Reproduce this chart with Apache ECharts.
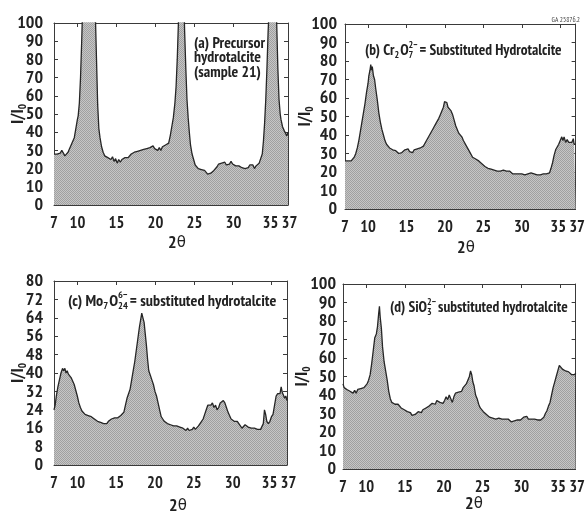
<!DOCTYPE html>
<html><head><meta charset="utf-8">
<script src="https://cdn.jsdelivr.net/npm/echarts@6/dist/echarts.min.js"></script>
<style>html,body{margin:0;padding:0;background:#fff}#c{width:588px;height:513px}</style>
</head><body><div id="c"></div>
<script>
// ---------- data ----------
const xTicks = [7, 10, 15, 20, 25, 30, 35, 37];
const xTickLabelsMain = [7, 10, 15, 20, 25, 30, 35];
const xTickLabelsEnd = [37];
const yTicks100 = [0, 10, 20, 30, 40, 50, 60, 70, 80, 90, 100];
const yTicks80 = [0, 8, 16, 24, 32, 40, 48, 56, 64, 72, 80];

// (a) Precursor hydrotalcite (sample 21)  [2theta, I/I0]  (peaks run off the top)
const dataA = [[7.0,28],[7.2,29],[7.4,28],[7.6,29],[7.8,28.5],[8.0,30],[8.2,29],[8.4,27],[8.6,27.5],[8.8,29],[9.0,31],[9.2,33],[9.4,34],[9.6,37],[9.8,42],[10.0,47],[10.1,49],[10.25,56],[10.4,70],[10.55,90],[10.65,105],[11.0,150],[11.5,170],[12.0,140],[12.3,105],[12.45,80],[12.6,55],[12.75,42],[12.9,37],[13.1,32],[13.3,29],[13.5,27],[13.7,28],[13.9,26],[14.1,27],[14.3,25],[14.5,26.5],[14.7,24],[14.9,25.5],[15.1,23],[15.3,25],[15.5,23.5],[15.7,25],[15.9,24],[16.1,26],[16.3,25],[16.5,26],[16.7,27],[16.9,28],[17.1,27],[17.3,29],[17.5,28],[17.7,29.5],[17.9,28.5],[18.1,30],[18.3,29],[18.5,30.5],[18.7,29.5],[18.9,31],[19.1,30],[19.3,31.5],[19.5,30.5],[19.7,32.5],[19.9,31],[20.1,32],[20.3,30],[20.5,31.5],[20.7,30],[20.9,32],[21.1,31],[21.3,33],[21.5,32.5],[21.7,34],[21.9,38],[22.1,43],[22.3,48],[22.5,56],[22.65,65],[22.8,80],[22.95,100],[23.3,140],[23.6,120],[23.75,95],[23.9,75],[24.05,58],[24.2,48],[24.35,40],[24.5,33],[24.7,28],[24.9,25],[25.1,22],[25.3,21.5],[25.5,20],[25.7,21],[25.9,19.5],[26.1,20],[26.3,19],[26.5,18],[26.7,17],[26.9,18],[27.1,17.5],[27.3,18.5],[27.5,19],[27.7,20],[27.9,21],[28.1,22.5],[28.3,21.5],[28.5,23],[28.7,22],[28.9,23.5],[29.1,22],[29.3,23],[29.5,22.5],[29.7,24],[29.9,22.5],[30.1,23],[30.3,21.5],[30.5,22.5],[30.7,21.5],[30.9,22],[31.1,20.5],[31.3,21.5],[31.5,20],[31.7,21],[31.9,20.5],[32.1,22],[32.3,21],[32.5,22],[32.7,20],[32.9,21.5],[33.1,22],[33.3,23],[33.5,24],[33.7,28],[33.85,35],[34.0,45],[34.15,58],[34.3,75],[34.45,95],[34.55,105],[35.0,160],[35.4,120],[35.55,100],[35.7,75],[35.85,58],[36.0,50],[36.1,47],[36.3,43],[36.5,41],[36.7,40],[36.85,38],[37.0,40]];

// (b) Cr2O7 2- substituted hydrotalcite
const dataB = [[7.0,26],[7.2,25],[7.4,26],[7.6,25],[7.8,26],[8.0,27],[8.2,28],[8.4,30],[8.6,33],[8.8,37],[9.0,42],[9.2,47],[9.4,52],[9.6,57],[9.8,63],[10.0,68],[10.1,72],[10.25,75],[10.35,78],[10.45,75],[10.55,77],[10.7,72],[10.85,70],[11.0,65],[11.2,59],[11.4,52],[11.6,47],[11.8,43],[12.0,40],[12.2,37],[12.4,35],[12.6,35],[12.8,33],[13.0,33.5],[13.2,32],[13.4,31],[13.6,31.5],[13.8,30.5],[14.0,30],[14.2,31],[14.4,30.5],[14.6,31],[14.8,32],[15.0,31],[15.2,32.5],[15.4,31],[15.6,31.5],[15.8,30.5],[16.0,32],[16.2,31],[16.4,32.5],[16.6,31.5],[16.8,33],[17.0,32.5],[17.2,34],[17.4,35],[17.6,37],[17.8,38],[18.0,40],[18.2,41],[18.4,43],[18.6,44],[18.8,46],[19.0,47],[19.2,49],[19.4,51],[19.6,53],[19.8,55],[19.95,58],[20.1,57],[20.25,57.5],[20.4,55],[20.6,56],[20.8,53],[21.0,51],[21.2,48],[21.4,45],[21.6,44],[21.8,41],[22.0,40],[22.2,39],[22.4,37],[22.6,36],[22.8,34],[23.0,33],[23.2,31],[23.4,30],[23.6,28],[23.8,28.5],[24.0,27],[24.2,27.5],[24.4,26],[24.6,25.5],[24.8,24.5],[25.0,24],[25.2,23],[25.4,23],[25.6,22],[25.8,22.5],[26.0,21.5],[26.2,22],[26.4,21],[26.6,21.5],[26.8,20.5],[27.0,20],[27.2,20.5],[27.4,20],[27.6,21],[27.8,20],[28.0,20.5],[28.2,19.5],[28.4,20.5],[28.6,20],[28.8,19],[29.0,19.5],[29.2,19],[29.4,20],[29.6,19],[29.8,19.5],[30.0,19],[30.2,19.5],[30.4,18.5],[30.6,19.5],[30.8,19],[31.0,18.5],[31.2,19.5],[31.4,18.5],[31.6,19],[31.8,18],[32.0,18.5],[32.2,17.5],[32.4,18.5],[32.6,18],[32.8,19],[33.0,18.5],[33.2,19],[33.4,18.5],[33.6,19.5],[33.8,22],[34.0,25],[34.2,29],[34.4,32],[34.6,33],[34.8,35],[35.0,36],[35.2,39],[35.35,37],[35.5,39],[35.7,36],[35.9,37.5],[36.1,36],[36.3,37],[36.5,36],[36.7,38],[36.8,35],[37.0,35]];

// (c) Mo7O24 6- substituted hydrotalcite
const dataC = [[7.0,24],[7.15,26],[7.3,30],[7.5,34],[7.7,37],[7.9,40],[8.1,42],[8.25,41],[8.4,42],[8.55,40],[8.7,41],[8.85,39.5],[9.0,40],[9.2,38],[9.4,36.5],[9.6,35],[9.8,32.5],[10.0,30],[10.2,27],[10.4,25],[10.6,23.5],[10.8,23],[11.0,22],[11.2,22.5],[11.4,21.5],[11.6,22],[11.8,21],[12.0,20.5],[12.2,20],[12.4,19.5],[12.6,19],[12.8,19.5],[13.0,18.5],[13.2,19],[13.4,18],[13.6,18.5],[13.8,18],[14.0,19],[14.2,19.5],[14.4,20],[14.6,19.5],[14.8,20.5],[15.0,20],[15.2,20.5],[15.4,20],[15.6,21.5],[15.8,22],[16.0,23],[16.2,26],[16.4,29],[16.6,31],[16.8,33],[17.0,37],[17.2,41],[17.4,45],[17.6,50],[17.8,55],[18.0,60],[18.15,63],[18.3,66],[18.45,64],[18.6,62],[18.75,57],[18.9,52],[19.05,46],[19.2,41],[19.4,39],[19.6,37],[19.8,35],[20.0,32],[20.2,30],[20.4,27],[20.6,24],[20.8,21],[21.0,20],[21.2,19],[21.4,18.5],[21.6,18],[21.8,18.5],[22.0,17.5],[22.2,18],[22.4,17],[22.6,17.5],[22.8,17],[23.0,17.5],[23.2,16.5],[23.4,17],[23.6,16],[23.8,15.5],[24.0,15],[24.2,16],[24.4,15],[24.6,15.5],[24.8,15.5],[25.0,16.5],[25.2,15.5],[25.4,16],[25.6,17],[25.8,17.5],[26.0,19],[26.2,20],[26.4,22],[26.6,24],[26.8,26],[27.0,26.5],[27.2,26],[27.4,27],[27.6,25],[27.8,26],[28.0,24],[28.2,25],[28.4,27],[28.6,27.5],[28.8,28],[29.0,27],[29.2,25],[29.4,23],[29.6,21.5],[29.8,20],[30.0,19.5],[30.2,19],[30.4,18.5],[30.6,19],[30.8,18],[31.0,18.5],[31.2,16],[31.4,15.5],[31.6,17.5],[31.8,18],[32.0,16.5],[32.2,17],[32.4,16],[32.6,16.5],[32.8,16],[33.0,16.5],[33.2,15.5],[33.4,16],[33.6,15.5],[33.8,15],[33.95,18],[34.1,24],[34.25,22],[34.4,19],[34.6,18],[34.8,19],[35.0,21],[35.2,22],[35.4,26],[35.6,30],[35.8,31],[36.0,31.5],[36.1,31],[36.25,34],[36.4,31.5],[36.55,32],[36.7,29],[36.85,30],[37.0,28]];

// (d) SiO3 2- substituted hydrotalcite
const dataD = [[7.0,46],[7.15,44],[7.3,45],[7.5,43],[7.7,44],[7.9,42],[8.1,43],[8.3,41],[8.5,42.5],[8.7,41],[8.9,43],[9.1,42],[9.3,43.5],[9.5,43],[9.7,44],[9.9,45],[10.1,46],[10.3,48],[10.5,51],[10.7,57],[10.9,64],[11.1,71],[11.3,73],[11.45,77],[11.6,84],[11.7,88],[11.8,82],[11.95,76],[12.1,66],[12.3,58],[12.5,53],[12.7,48],[12.9,42],[13.1,38],[13.3,36],[13.5,35.5],[13.7,35],[13.9,34.5],[14.1,35],[14.3,34],[14.5,33],[14.7,33.5],[14.9,32],[15.1,31.5],[15.3,31],[15.5,31.5],[15.7,30.5],[15.9,29],[16.1,30],[16.3,29.5],[16.5,30.5],[16.7,31],[16.9,31.5],[17.1,30.5],[17.3,32],[17.5,32.5],[17.7,33],[17.9,32],[18.1,34],[18.3,35],[18.5,35.5],[18.7,36],[18.9,35],[19.1,37],[19.3,38],[19.5,36],[19.7,37],[19.9,35.5],[20.1,37],[20.3,39],[20.5,37.5],[20.7,40],[20.9,38],[21.1,36],[21.3,39],[21.5,41],[21.7,40],[21.9,41.5],[22.1,42],[22.3,42],[22.5,44],[22.7,45],[22.9,46],[23.1,48],[23.3,50],[23.45,53],[23.6,51],[23.75,47],[23.9,45],[24.1,40],[24.3,38],[24.5,35],[24.7,33],[24.9,32],[25.1,31],[25.3,30],[25.5,29.5],[25.7,29],[25.9,28],[26.1,28.5],[26.3,27.5],[26.5,28],[26.7,27],[26.9,28],[27.1,27.5],[27.3,26.5],[27.5,27],[27.7,26],[27.9,27],[28.1,26.5],[28.3,27],[28.5,26],[28.7,25.5],[28.9,26.5],[29.1,26],[29.3,27],[29.5,26.5],[29.7,27.5],[29.9,26.5],[30.1,27],[30.3,28],[30.5,27],[30.7,28.5],[30.9,27],[31.1,27.5],[31.3,27],[31.5,28],[31.7,27],[31.9,27.5],[32.1,26.5],[32.3,27.5],[32.5,26.5],[32.7,27],[32.9,28],[33.1,30],[33.3,31.5],[33.5,34],[33.7,36],[33.9,40],[34.1,44],[34.3,47],[34.5,50],[34.7,53],[34.9,56],[35.1,55],[35.3,54],[35.5,55],[35.7,53],[35.9,54],[36.1,52.5],[36.3,53],[36.5,51],[36.7,52],[36.9,51],[37.0,52]];

// ---------- styling ----------
const FF = "'PT Sans Narrow','Roboto Condensed','Archivo Narrow','Liberation Sans',sans-serif";
const INK = '#262626';
const AX = '#3a3a3a';

const pc = document.createElement('canvas'); pc.width = 2; pc.height = 2;
const pctx = pc.getContext('2d');
pctx.fillStyle = '#c6c6c6'; pctx.fillRect(0, 0, 2, 2);
pctx.fillStyle = '#a0a0a0'; pctx.fillRect(0, 0, 1, 1); pctx.fillRect(1, 1, 1, 1);
const fillPattern = { image: pc, repeat: 'repeat' };

const panels = [
  { data: dataA, ymax: 100, yint: 10, grid: { left: 54, top: 23, width: 234, height: 182 }, ylm: 11, yng: 27, xname: [177, 243] },
  { data: dataB, ymax: 100, yint: 10, grid: { left: 345, top: 24, width: 235, height: 185 }, ylm: 8, yng: 31, xname: [466, 248] },
  { data: dataC, ymax: 80, yint: 8, grid: { left: 54, top: 281, width: 233, height: 184 }, ylm: 11, yng: 27, xname: [178, 506] },
  { data: dataD, ymax: 100, yint: 10, grid: { left: 343, top: 284, width: 235, height: 185 }, ylm: 7, yng: 32, xname: [474, 504] }
];

const labelStyle = { fontFamily: FF, fontWeight: 'bold', fontSize: 18, lineHeight: 14, color: '#222' };
const xLabelStyle = Object.assign({}, labelStyle, { fontSize: 16.5 });
const richBase = { fontFamily: FF, fontWeight: 'bold', fontSize: 16.5, lineHeight: 14, color: '#222' };
const grids = [], xAxes = [], yAxes = [], series = [];
panels.forEach((p, i) => {
  grids.push(p.grid);
  const xBase = {
    type: 'value', gridIndex: i, min: 7, max: 37,
    axisLine: { show: true, onZero: false, lineStyle: { color: AX, width: 1 } },
    axisTick: { show: true, inside: true, length: 4, customValues: xTicks, lineStyle: { color: AX } },
    splitLine: { show: false }
  };
  xAxes.push(Object.assign({}, xBase, {
    position: 'bottom',
    axisLabel: Object.assign({
      customValues: xTickLabelsMain, margin: 11, showMaxLabel: true, showMinLabel: true, hideOverlap: false,
      formatter: v => (v === 35 ? '{q|35}' : String(v)),
      rich: { q: Object.assign({ padding: [0, 4, 0, 0] }, richBase) }
    }, xLabelStyle)
  }));
  xAxes.push(Object.assign({}, xBase, { position: 'top', axisLabel: { show: false } }));
  xAxes.push({
    type: 'value', gridIndex: i, min: 7, max: 37, position: 'bottom',
    axisLine: { show: false }, axisTick: { show: false }, splitLine: { show: false },
    axisLabel: Object.assign({
      customValues: xTickLabelsEnd, margin: 11, showMaxLabel: true, showMinLabel: true, hideOverlap: false,
      formatter: v => '{p|' + v + '}',
      rich: { p: Object.assign({ padding: [0, 0, 0, 3] }, richBase) }
    }, xLabelStyle)
  });
  const yBase = {
    type: 'value', gridIndex: i, min: 0, max: p.ymax, interval: p.yint,
    axisLine: { show: true, onZero: false, lineStyle: { color: AX, width: 1 } },
    axisTick: { show: true, inside: true, length: 4, lineStyle: { color: AX } },
    splitLine: { show: false }
  };
  yAxes.push(Object.assign({}, yBase, {
    position: 'left',
    axisLabel: Object.assign({ margin: p.ylm, showMaxLabel: true, showMinLabel: true, hideOverlap: false }, labelStyle),
    name: 'I/I{s|0}', nameLocation: 'middle', nameGap: p.yng, nameRotate: 90, nameMoveOverlap: false,
    nameTextStyle: Object.assign({}, labelStyle, { lineHeight: 18, rich: { s: { fontFamily: FF, fontWeight: 'bold', fontSize: 11, color: '#222', padding: [9, 0, 0, 0] } } })
  }));
  yAxes.push(Object.assign({}, yBase, { position: 'right', axisLabel: { show: false } }));
  series.push({
    type: 'line', xAxisIndex: i * 3, yAxisIndex: i * 2, data: p.data,
    symbol: 'none', showSymbol: false, clip: true, smooth: false,
    lineStyle: { color: INK, width: 1.3 },
    areaStyle: { color: fillPattern, opacity: 1 },
    z: 2
  });
});

// ---------- titles with sub/superscripts ----------
const mctx = document.createElement('canvas').getContext('2d');
function fnt(s) { return 'bold ' + s.toFixed(2) + 'px ' + FF; }
function tw(t, f) { mctx.font = f; return mctx.measureText(t).width; }
function txt(t, x, y, f) {
  return { type: 'text', x: x, y: y, silent: true, z: 100,
    style: { text: t, font: f, fill: '#222', textAlign: 'left', textVerticalAlign: 'middle', align: 'left', verticalAlign: 'middle' } };
}
function layout(parts, x, y, size) {
  const MF = fnt(size), SF = fnt(size * 0.64);
  const els = []; let cx = x;
  parts.forEach(p => {
    if (p.stack) {
      els.push(txt(p.stack[0], cx, y - size * 0.36, SF));
      els.push(txt(p.stack[1], cx, y + size * 0.3, SF));
      cx += Math.max(tw(p.stack[0], SF), tw(p.stack[1], SF)) + 2;
    } else if (p.sub) {
      els.push(txt(p.sub, cx, y + size * 0.3, SF));
      cx += tw(p.sub, SF) + 1;
    } else {
      els.push(txt(p.t, cx, y, MF));
      cx += tw(p.t, MF);
    }
  });
  return { els: els, w: cx - x };
}
function fitSize(parts, target) { return 14 * target / layout(parts, 0, 0, 14).w; }

const tA1 = [{ t: '(a) Precursor' }], tA2 = [{ t: 'hydrotalcite' }], tA3 = [{ t: '(sample 21)' }];
const tB = [{ t: '(b) Cr' }, { sub: '2' }, { t: 'O' }, { stack: ['2\u2212', '7'] }, { t: '= Substituted Hydrotalcite' }];
const tC = [{ t: '(c) Mo' }, { sub: '7' }, { t: 'O' }, { stack: ['6\u2212', '24'] }, { t: '= substituted hydrotalcite' }];
const tD = [{ t: '(d) SiO' }, { stack: ['2\u2212', '3'] }, { t: 'substituted hydrotalcite' }];

const sA = fitSize(tA1, 71);
let graphics = [];
graphics = graphics.concat(layout(tA1, 194, 43, sA).els, layout(tA2, 194, 57, sA).els, layout(tA3, 194, 72, sA).els);
graphics = graphics.concat(layout(tB, 365, 51, fitSize(tB, 197)).els);
graphics = graphics.concat(layout(tC, 68, 301, fitSize(tC, 209)).els);
graphics = graphics.concat(layout(tD, 390, 308, fitSize(tD, 178)).els);
// x-axis titles "2θ"
panels.forEach(p => {
  graphics.push({ type: 'text', x: p.xname[0], y: p.xname[1], silent: true, z: 100,
    style: { text: '{n|2}{t|θ}', font: fnt(18), fill: '#222', textAlign: 'center', textVerticalAlign: 'middle', align: 'center', verticalAlign: 'middle',
      rich: { n: { fontFamily: FF, fontWeight: 'bold', fontSize: 18, fill: '#222', color: '#222' },
              t: { fontFamily: 'DejaVu Sans', fontSize: 15, fill: '#222', color: '#222' } } } });
});
graphics.push({ type: 'text', x: 580, y: 20, silent: true,
  style: { text: 'GA 25876.2', font: '7px ' + FF, fill: '#444', textAlign: 'right', textVerticalAlign: 'middle', align: 'right', verticalAlign: 'middle' } });

const chart = echarts.init(document.getElementById('c'), null, { renderer: 'canvas' });
chart.setOption({
  animation: false,
  backgroundColor: '#fff',
  grid: grids, xAxis: xAxes, yAxis: yAxes, series: series,
  graphic: { elements: graphics }
});
</script></body></html>
